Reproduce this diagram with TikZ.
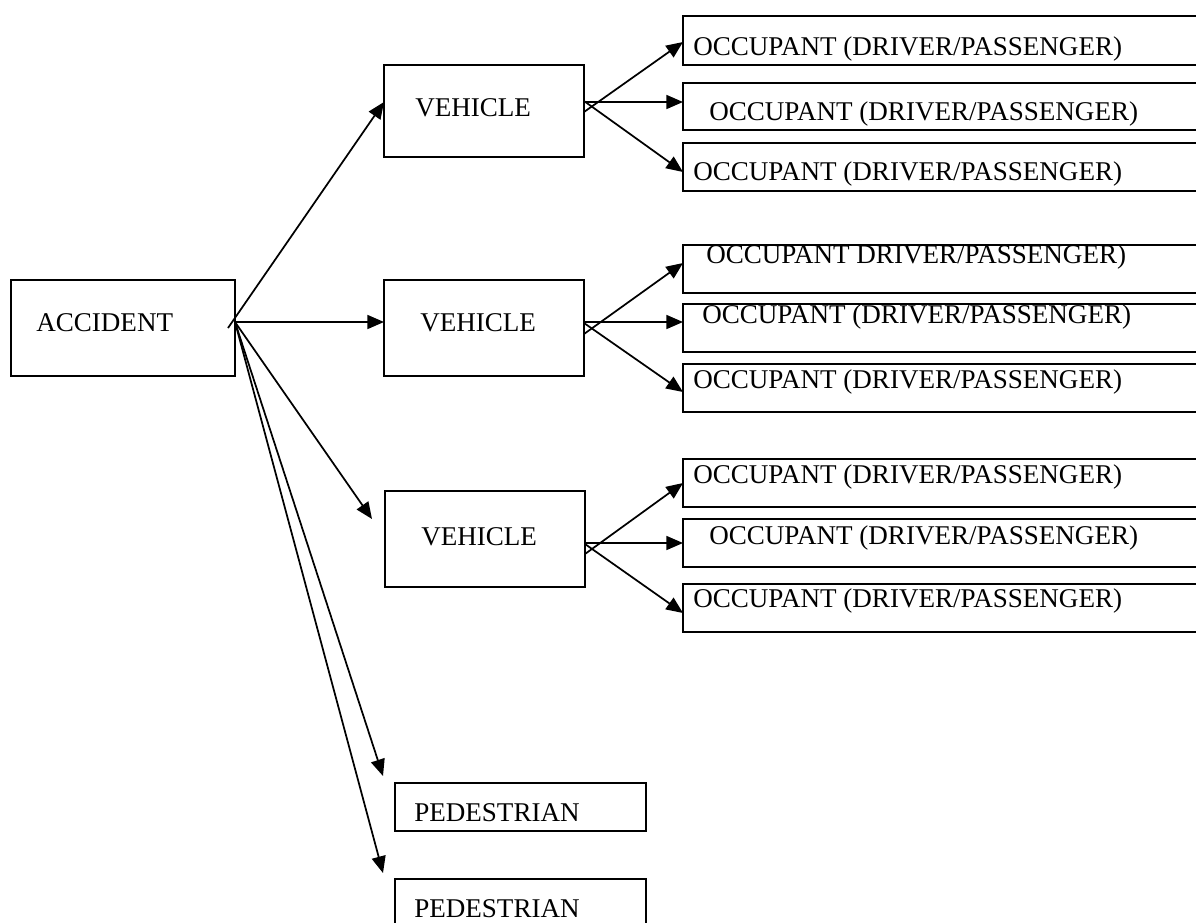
\documentclass[tikz,border=0pt]{standalone}
\usepackage{fontspec}
\setmainfont{Liberation Serif}
\usetikzlibrary{arrows.meta}
\begin{document}
\begin{tikzpicture}[x=0.75pt,y=-0.75pt,
  box/.style={draw,line width=1.8pt,rectangle,inner sep=0pt,outer sep=0pt,anchor=north west},
  lbl/.style={anchor=base west,inner sep=0pt,font=\fontsize{20.3}{24}\selectfont},
  arr/.style={line width=1.3pt,-{Triangle[length=12.5pt,width=10.5pt]}}]
\clip (0,0) rectangle (1196,922);
% boxes
\node[box,minimum width=168pt,minimum height=72pt] (acc) at (11,280) {};
\node[box,minimum width=150pt,minimum height=69pt] (v1) at (384,65) {};
\node[box,minimum width=150pt,minimum height=72pt] (v2) at (384,280) {};
\node[box,minimum width=150pt,minimum height=72pt] (v3) at (385,491) {};
\node[box,minimum width=402pt,minimum height=36.75pt] (o1) at (683,16) {};
\node[box,minimum width=402pt,minimum height=35.25pt] (o2) at (683,83) {};
\node[box,minimum width=402pt,minimum height=36pt] (o3) at (683,143) {};
\node[box,minimum width=402pt,minimum height=36pt] (o4) at (683,245) {};
\node[box,minimum width=402pt,minimum height=36pt] (o5) at (683,304) {};
\node[box,minimum width=402pt,minimum height=36pt] (o6) at (683,364) {};
\node[box,minimum width=402pt,minimum height=36pt] (o7) at (683,459) {};
\node[box,minimum width=402pt,minimum height=36pt] (o8) at (683,519) {};
\node[box,minimum width=402pt,minimum height=36pt] (o9) at (683,584) {};
\node[box,minimum width=188.25pt,minimum height=36pt] (p1) at (395,783) {};
\node[box,minimum width=188.25pt,minimum height=36pt] (p2) at (395,879) {};
% texts
\node[lbl] (tacc) at (36,331) {ACCIDENT};
\node[lbl] (tv1) at (415,116) {VEHICLE};
\node[lbl] (tv2) at (420,331) {VEHICLE};
\node[lbl] (tv3) at (421,545) {VEHICLE};
\node[lbl] (to1) at (693,55) {OCCUPANT (DRIVER/PASSENGER)};
\node[lbl] (to2) at (709,120) {OCCUPANT (DRIVER/PASSENGER)};
\node[lbl] (to3) at (693,180) {OCCUPANT (DRIVER/PASSENGER)};
\node[lbl] (to4) at (706,263) {OCCUPANT DRIVER/PASSENGER)};
\node[lbl] (to5) at (702,323) {OCCUPANT (DRIVER/PASSENGER)};
\node[lbl] (to6) at (693,388) {OCCUPANT (DRIVER/PASSENGER)};
\node[lbl] (to7) at (693,483) {OCCUPANT (DRIVER/PASSENGER)};
\node[lbl] (to8) at (709,544) {OCCUPANT (DRIVER/PASSENGER)};
\node[lbl] (to9) at (693,607) {OCCUPANT (DRIVER/PASSENGER)};
\node[lbl] (tp1) at (414,821) {PEDESTRIAN};
\node[lbl] (tp2) at (414,917) {PEDESTRIAN};
% free ends / start points
\coordinate (accU) at (228,328);
\coordinate (v3tip) at (372,519);
\coordinate (p1tip) at (383,776);
\coordinate (p2tip) at (383,873);
% connectors from ACCIDENT
\draw[arr] (accU) -- (v1.west |- 0,102);
\draw[arr] (acc.east |- 0,322) -- (v2.west |- 0,322);
\draw[arr] (acc.east |- 0,322) -- (v3tip);
\draw[arr] (acc.east |- 0,322) -- (p1tip);
\draw[arr] (acc.east |- 0,322) -- (p2tip);
% vehicle 1
\draw[arr] (v1.east |- 0,112) -- (o1.west |- 0,42);
\draw[arr] (v1.east |- 0,102) -- (o2.west |- 0,102);
\draw[arr] (v1.east |- 0,101) -- (o3.west |- 0,172);
% vehicle 2
\draw[arr] (v2.east |- 0,334) -- (o4.west |- 0,263);
\draw[arr] (v2.east |- 0,322) -- (o5.west |- 0,322);
\draw[arr] (v2.east |- 0,323) -- (o6.west |- 0,392);
% vehicle 3
\draw[arr] (v3.east |- 0,554) -- (o7.west |- 0,483);
\draw[arr] (v3.east |- 0,543) -- (o8.west |- 0,543);
\draw[arr] (v3.east |- 0,544) -- (o9.west |- 0,613);
\end{tikzpicture}
\end{document}
